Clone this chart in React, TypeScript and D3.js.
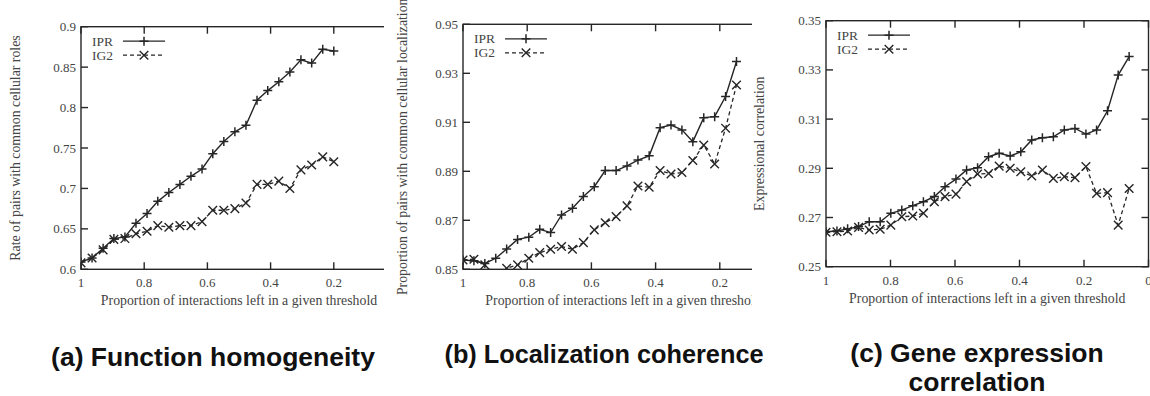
import React from 'react';
import * as d3 from 'd3';

// proportion of interactions left (x) and scores per threshold
const xA = [1.0, 0.965, 0.93, 0.896, 0.861, 0.826, 0.791, 0.757, 0.722, 0.687, 0.652, 0.617, 0.583, 0.548, 0.513, 0.478, 0.443, 0.409, 0.374, 0.339, 0.304, 0.27, 0.235, 0.2];
const iprA = [0.609, 0.614, 0.626, 0.638, 0.64, 0.657, 0.669, 0.684, 0.695, 0.705, 0.715, 0.724, 0.743, 0.758, 0.77, 0.778, 0.809, 0.821, 0.832, 0.844, 0.859, 0.855, 0.872, 0.87];
const ig2A = [0.608, 0.614, 0.624, 0.637, 0.638, 0.644, 0.647, 0.654, 0.652, 0.654, 0.654, 0.659, 0.673, 0.673, 0.675, 0.682, 0.705, 0.705, 0.709, 0.7, 0.723, 0.729, 0.739, 0.733];

const xB = [1.0, 0.966, 0.932, 0.898, 0.864, 0.83, 0.795, 0.761, 0.727, 0.693, 0.659, 0.625, 0.591, 0.557, 0.523, 0.489, 0.455, 0.42, 0.386, 0.352, 0.318, 0.284, 0.25, 0.216, 0.182, 0.148];
const iprB = [0.8538, 0.8535, 0.8524, 0.8545, 0.8583, 0.8622, 0.8631, 0.8663, 0.865, 0.8722, 0.8749, 0.8797, 0.8837, 0.8903, 0.8903, 0.8922, 0.8946, 0.8963, 0.9078, 0.9089, 0.9069, 0.9021, 0.9119, 0.9123, 0.9205, 0.9348];
const ig2B = [0.8538, 0.8541, 0.8518, 0.847, 0.8504, 0.8518, 0.8545, 0.8568, 0.8582, 0.8593, 0.8582, 0.8609, 0.8661, 0.869, 0.8715, 0.8759, 0.884, 0.8835, 0.8903, 0.8889, 0.8895, 0.8944, 0.9007, 0.893, 0.9076, 0.9252];

const xC = [1.0, 0.966, 0.933, 0.899, 0.866, 0.832, 0.799, 0.765, 0.731, 0.698, 0.664, 0.631, 0.597, 0.564, 0.53, 0.496, 0.463, 0.429, 0.396, 0.362, 0.329, 0.295, 0.261, 0.228, 0.194, 0.161, 0.127, 0.094, 0.06];
const iprC = [0.2642, 0.2645, 0.2654, 0.2663, 0.2683, 0.2683, 0.2717, 0.273, 0.2748, 0.2764, 0.2785, 0.2825, 0.2856, 0.2893, 0.2902, 0.2947, 0.2961, 0.295, 0.2967, 0.3015, 0.3024, 0.3028, 0.3056, 0.3062, 0.3039, 0.3056, 0.3134, 0.3279, 0.3354];
const ig2C = [0.264, 0.2642, 0.2645, 0.266, 0.2649, 0.2652, 0.2669, 0.2703, 0.2706, 0.2717, 0.2764, 0.2785, 0.2795, 0.2846, 0.2877, 0.2879, 0.2909, 0.29, 0.2886, 0.2869, 0.2893, 0.2859, 0.2866, 0.2862, 0.2907, 0.2798, 0.2801, 0.2669, 0.2818];

const xTicks = [1, 0.8, 0.6, 0.4, 0.2, 0];
const xTickLabels = ['1', '0.8', '0.6', '0.4', '0.2', '0'];
const yTicksA = [0.6, 0.65, 0.7, 0.75, 0.8, 0.85, 0.9];
const yTickLabelsA = ['0.6', '0.65', '0.7', '0.75', '0.8', '0.85', '0.9'];
const yTicksB = [0.85, 0.87, 0.89, 0.91, 0.93, 0.95];
const yTickLabelsB = ['0.85', '0.87', '0.89', '0.91', '0.93', '0.95'];
const yTicksC = [0.25, 0.27, 0.29, 0.31, 0.33, 0.35];
const yTickLabelsC = ['0.25', '0.27', '0.29', '0.31', '0.33', '0.35'];

const seriesNames = ['IPR', 'IG2'];
const xTitle = 'Proportion of interactions left in a given threshold';

const SERIF = '"Liberation Serif", "DejaVu Serif", serif';
const SANS = '"Liberation Sans", Arial, sans-serif';
const INK = '#262626';
const TXT = '#444';

interface PanelProps {
  id: string;
  xs: number[];
  ipr: number[];
  ig2: number[];
  yDomain: [number, number];
  yTicks: number[];
  yTickLabels: string[];
  yTitle: string;
  left: number;
  right: number;
  top: number;
  bottom: number;
  clipX0: number;
  clipX1: number;
  yTitleX: number;
}

function Plus({ cx, cy }: { cx: number; cy: number }) {
  const s = 4.5;
  return <path d={`M${cx - s},${cy}H${cx + s}M${cx},${cy - s}V${cy + s}`} stroke={INK} strokeWidth={1.5} />;
}

function Cross({ cx, cy }: { cx: number; cy: number }) {
  const s = 4.3;
  return <path d={`M${cx - s},${cy - s}L${cx + s},${cy + s}M${cx - s},${cy + s}L${cx + s},${cy - s}`} stroke={INK} strokeWidth={1.4} />;
}

function Panel(p: PanelProps) {
  const x = d3.scaleLinear().domain([1, 0]).range([p.left, p.right]);
  const y = d3.scaleLinear().domain(p.yDomain).range([p.bottom, p.top]);
  const line = d3.line<number>().x((_d, i) => x(p.xs[i])).y((d) => y(d));
  const tick = 7;
  const legY = [p.top + 14.5, p.top + 28.5];
  const legX = p.left + 11;
  const sx0 = p.left + 42;
  const sx1 = p.left + 84;

  return (
    <g clipPath={`url(#panel-${p.id})`}>
      <defs>
        <clipPath id={`panel-${p.id}`}>
          <rect x={p.clipX0} y={0} width={p.clipX1 - p.clipX0} height={396} />
        </clipPath>
        <clipPath id={`plot-${p.id}`}>
          <rect x={p.left} y={p.top} width={p.right - p.left} height={p.bottom - p.top} />
        </clipPath>
      </defs>

      {/* frame */}
      <rect x={p.left} y={p.top} width={p.right - p.left} height={p.bottom - p.top} fill="none" stroke={INK} strokeWidth={1.4} />

      {/* x ticks, mirrored on top */}
      {xTicks.map((t, i) => (
        <g key={'xt' + i}>
          <line x1={x(t)} x2={x(t)} y1={p.bottom} y2={p.bottom - tick} stroke={INK} strokeWidth={1.4} />
          <line x1={x(t)} x2={x(t)} y1={p.top} y2={p.top + tick} stroke={INK} strokeWidth={1.4} />
          <text x={x(t)} y={p.bottom + 18} textAnchor="middle" fontFamily={SERIF} fontSize={13} fill={TXT}>
            {xTickLabels[i]}
          </text>
        </g>
      ))}

      {/* y ticks, mirrored on right */}
      {p.yTicks.map((t, i) => (
        <g key={'yt' + i}>
          <line x1={p.left} x2={p.left + tick} y1={y(t)} y2={y(t)} stroke={INK} strokeWidth={1.4} />
          <line x1={p.right} x2={p.right - tick} y1={y(t)} y2={y(t)} stroke={INK} strokeWidth={1.4} />
          <text x={p.left - 5} y={y(t)} dy="0.35em" textAnchor="end" fontFamily={SERIF} fontSize={13} fill={TXT}>
            {p.yTickLabels[i]}
          </text>
        </g>
      ))}

      {/* axis titles */}
      <text
        x={(p.left + p.right) / 2}
        y={p.bottom + 36}
        textAnchor="middle"
        fontFamily={SERIF}
        fontSize={13.8}
        fill={TXT}
      >
        {xTitle}
      </text>
      <text
        x={p.yTitleX}
        y={(p.top + p.bottom) / 2}
        transform={`rotate(-90, ${p.yTitleX}, ${(p.top + p.bottom) / 2})`}
        textAnchor="middle"
        dominantBaseline="central"
        fontFamily={SERIF}
        fontSize={13.8}
        fill={TXT}
      >
        {p.yTitle}
      </text>

      {/* series */}
      <g clipPath={`url(#plot-${p.id})`}>
        <path d={line(p.ig2) ?? ''} fill="none" stroke={INK} strokeWidth={1.3} strokeDasharray="4,3" />
        <path d={line(p.ipr) ?? ''} fill="none" stroke={INK} strokeWidth={1.4} />
        {p.ig2.map((v, i) => (
          <Cross key={'c' + i} cx={x(p.xs[i])} cy={y(v)} />
        ))}
        {p.ipr.map((v, i) => (
          <Plus key={'p' + i} cx={x(p.xs[i])} cy={y(v)} />
        ))}
      </g>

      {/* legend */}
      {seriesNames.map((name, i) => (
        <g key={name}>
          <text x={legX} y={legY[i]} dy="0.33em" fontFamily={SERIF} fontSize={13.5} fill={TXT}>
            {name}
          </text>
          <line
            x1={sx0}
            x2={sx1}
            y1={legY[i]}
            y2={legY[i]}
            stroke={INK}
            strokeWidth={1.3}
            strokeDasharray={i === 1 ? '4,3' : undefined}
          />
          {i === 0 ? <Plus cx={(sx0 + sx1) / 2} cy={legY[i]} /> : <Cross cx={(sx0 + sx1) / 2} cy={legY[i]} />}
        </g>
      ))}
    </g>
  );
}

export default function App() {
  return (
    <svg
      width={1150}
      height={396}
      style={{ position: 'absolute', left: 0, top: 0, background: '#fff' }}
    >
      <rect width={1150} height={396} fill="#fff" />
      <Panel
        id="a"
        xs={xA}
        ipr={iprA}
        ig2={ig2A}
        yDomain={[0.6, 0.9]}
        yTicks={yTicksA}
        yTickLabels={yTickLabelsA}
        yTitle="Rate of pairs with common cellular roles"
        left={81}
        right={397}
        top={26.7}
        bottom={269.3}
        clipX0={0}
        clipX1={384}
        yTitleX={15}
      />
      <Panel
        id="b"
        xs={xB}
        ipr={iprB}
        ig2={ig2B}
        yDomain={[0.85, 0.95]}
        yTicks={yTicksB}
        yTickLabels={yTickLabelsB}
        yTitle="Proportion of pairs with common cellular localization"
        left={463}
        right={784}
        top={24.3}
        bottom={269.3}
        clipX0={384}
        clipX1={752}
        yTitleX={403}
      />
      <Panel
        id="c"
        xs={xC}
        ipr={iprC}
        ig2={ig2C}
        yDomain={[0.25, 0.35]}
        yTicks={yTicksC}
        yTickLabels={yTickLabelsC}
        yTitle="Expressional correlation"
        left={826}
        right={1148.5}
        top={20.7}
        bottom={266.7}
        clipX0={752}
        clipX1={1150}
        yTitleX={760}
      />

      {/* sub-figure captions */}
      <g fontFamily={SANS} fontWeight="bold" fill="#111" textAnchor="middle">
        <text x={213} y={366} fontSize={26.5}>(a) Function homogeneity</text>
        <text x={604} y={363} fontSize={25.3}>(b) Localization coherence</text>
        <text x={977} y={362} fontSize={26.5}>(c) Gene expression</text>
        <text x={977} y={391} fontSize={26.5}>correlation</text>
      </g>
    </svg>
  );
}
